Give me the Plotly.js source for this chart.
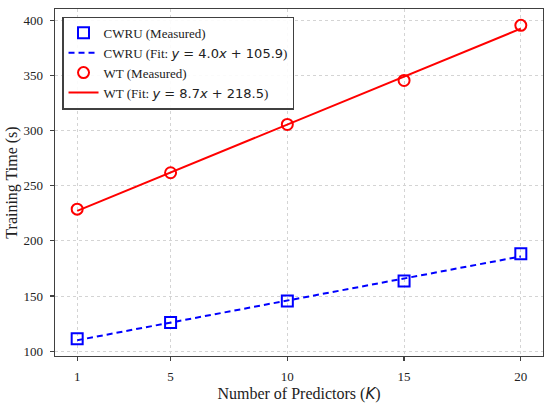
<!DOCTYPE html>
<html>
<head>
<meta charset="utf-8">
<script src="https://cdn.plot.ly/plotly-3.0.1.min.js"></script>
<style>html,body{margin:0;padding:0;background:#fff;}#chart{width:550px;height:403px;}</style>
</head>
<body>
<div id="chart"></div>
<script>
const predictors = [1, 5, 10, 15, 20];
const cwruMeasured = [111.3, 126, 145.5, 163.6, 188.3];
const wtMeasured = [228.8, 261.8, 305.6, 345.5, 395.5];
const fitX = [1, 20];
const cwruFit = [109.9, 185.9];
const wtFit = [227.2, 392.5];
const xTicks = [1, 5, 10, 15, 20];
const yTicks = [100, 150, 200, 250, 300, 350, 400];

const mathSpan = s => '<span style="font-family:DejaVu Sans;font-size:13px">' + s + '</span>';
const mathSpanT = s => '<span style="font-family:DejaVu Sans;font-size:15px">' + s + '</span>';

const traces = [
  {x: predictors, y: cwruMeasured, mode: 'markers', name: 'CWRU (Measured)',
   marker: {symbol: 'square-open', size: 11, color: '#0000ff', line: {width: 2, color: '#0000ff'}}},
  {x: fitX, y: cwruFit, mode: 'lines', name: 'CWRU (Fit: ' + mathSpan('<i>y</i> = 4.0<i>x</i> + 105.9') + ')',
   line: {color: '#0000ff', width: 2, dash: '6px,4px'}},
  {x: predictors, y: wtMeasured, mode: 'markers', name: 'WT (Measured)',
   marker: {symbol: 'circle-open', size: 11, color: '#ff0000', line: {width: 2, color: '#ff0000'}}},
  {x: fitX, y: wtFit, mode: 'lines', name: 'WT (Fit: ' + mathSpan('<i>y</i> = 8.7<i>x</i> + 218.5') + ')',
   line: {color: '#ff0000', width: 2}}
];

const axisCommon = {
  showline: true, mirror: true, linecolor: '#404040', linewidth: 1.4,
  ticks: 'outside', ticklen: 4, tickcolor: '#404040', tickwidth: 1.2,
  ticklabelstandoff: 4,
  showgrid: true, gridcolor: '#d4d4d4', griddash: 'dot', gridwidth: 1,
  zeroline: false,
  tickfont: {family: 'Liberation Serif', size: 13, color: '#222'}
};

const layout = {
  width: 550, height: 403,
  margin: {l: 55, r: 7, t: 9, b: 47},
  paper_bgcolor: '#fff', plot_bgcolor: '#fff',
  font: {family: 'Liberation Serif', color: '#222'},
  showlegend: true,
  legend: {
    x: 0.015, y: 0.978, xanchor: 'left', yanchor: 'top',
    bgcolor: 'rgba(255,255,255,0.9)', bordercolor: '#404040', borderwidth: 1.2,
    font: {family: 'Liberation Serif', size: 13, color: '#222'},
    tracegroupgap: 0, itemwidth: 30
  },
  xaxis: Object.assign({}, axisCommon, {
    range: [0.05, 20.95], tickmode: 'array', tickvals: xTicks, ticktext: xTicks.map(String),
    title: {text: 'Number of Predictors (' + mathSpanT('<i>K</i>') + ')', font: {family: 'Liberation Serif', size: 16, color: '#222'}, standoff: 8}
  }),
  yaxis: Object.assign({}, axisCommon, {
    range: [95.6, 410.3], tickmode: 'array', tickvals: yTicks, ticktext: yTicks.map(String),
    title: {text: 'Training Time (s)', font: {family: 'Liberation Serif', size: 16, color: '#222'}, standoff: 2}
  })
};

Plotly.newPlot('chart', traces, layout, {displayModeBar: false, staticPlot: true});
</script>
</body>
</html>
